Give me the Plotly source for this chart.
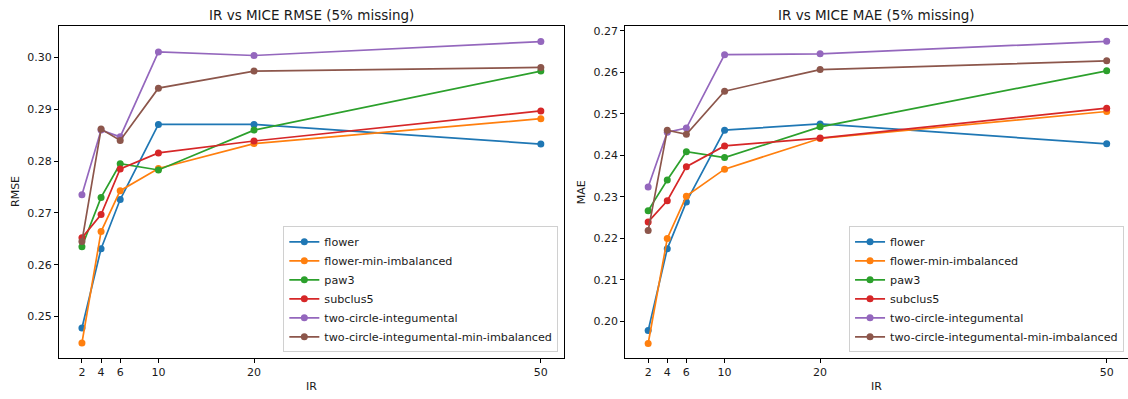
import plotly.graph_objects as go

# Imbalance ratios evaluated
ir = [2, 4, 6, 10, 20, 50]

datasets = [
    "flower",
    "flower-min-imbalanced",
    "paw3",
    "subclus5",
    "two-circle-integumental",
    "two-circle-integumental-min-imbalanced",
]

# RMSE of MICE imputation at 5% missing
rmse_flower = [0.2478, 0.2631, 0.2726, 0.2871, 0.2871, 0.2833]
rmse_flower_min = [0.2449, 0.2664, 0.2743, 0.2786, 0.2834, 0.2882]
rmse_paw3 = [0.2635, 0.2730, 0.2795, 0.2783, 0.2860, 0.2974]
rmse_subclus5 = [0.2652, 0.2697, 0.2785, 0.2816, 0.2839, 0.2897]
rmse_two_circle = [0.2735, 0.2860, 0.2847, 0.3011, 0.3004, 0.3031]
rmse_two_circle_min = [0.2645, 0.2862, 0.2840, 0.2941, 0.2974, 0.2981]

# MAE of MICE imputation at 5% missing
mae_flower = [0.1978, 0.2175, 0.2288, 0.2461, 0.2476, 0.2428]
mae_flower_min = [0.1947, 0.2200, 0.2302, 0.2367, 0.2441, 0.2506]
mae_paw3 = [0.2267, 0.2341, 0.2409, 0.2395, 0.2469, 0.2604]
mae_subclus5 = [0.2240, 0.2291, 0.2373, 0.2423, 0.2442, 0.2514]
mae_two_circle = [0.2324, 0.2456, 0.2466, 0.2643, 0.2645, 0.2675]
mae_two_circle_min = [0.2219, 0.2461, 0.2451, 0.2555, 0.2607, 0.2628]

rmse_series = [rmse_flower, rmse_flower_min, rmse_paw3, rmse_subclus5,
               rmse_two_circle, rmse_two_circle_min]
mae_series = [mae_flower, mae_flower_min, mae_paw3, mae_subclus5,
              mae_two_circle, mae_two_circle_min]

colors = ["#1f77b4", "#ff7f0e", "#2ca02c", "#d62728", "#9467bd", "#8c564b"]

rmse_ticks = [0.25, 0.26, 0.27, 0.28, 0.29, 0.30]
mae_ticks = [0.20, 0.21, 0.22, 0.23, 0.24, 0.25, 0.26, 0.27]

FONT = "DejaVu Sans"
TXT = "#1a1a1a"

fig = go.Figure()

for name, ys, c in zip(datasets, rmse_series, colors):
    fig.add_trace(go.Scatter(
        x=ir, y=ys, name=name, mode="lines+markers",
        line=dict(color=c, width=1.7),
        marker=dict(color=c, size=7, symbol="circle"),
        xaxis="x", yaxis="y", legend="legend",
    ))

for name, ys, c in zip(datasets, mae_series, colors):
    fig.add_trace(go.Scatter(
        x=ir, y=ys, name=name, mode="lines+markers",
        line=dict(color=c, width=1.7),
        marker=dict(color=c, size=7, symbol="circle"),
        xaxis="x2", yaxis="y2", legend="legend2",
    ))

axis_common = dict(
    showgrid=False, zeroline=False, showline=True, linecolor="#000000",
    linewidth=1, ticks="outside", ticklen=4, tickwidth=1, tickcolor="#000000",
    tickfont=dict(family=FONT, size=11, color=TXT),
)

legend_common = dict(
    xanchor="right", yanchor="bottom",
    bgcolor="rgba(255,255,255,0.8)", bordercolor="#d0d0d0", borderwidth=1,
    font=dict(family=FONT, size=11.2, color=TXT),
    tracegroupgap=0, itemclick=False,
)

fig.update_layout(
    width=1128, height=399,
    margin=dict(l=59, r=0, t=26, b=41),
    paper_bgcolor="white", plot_bgcolor="white",
    font=dict(family=FONT, color=TXT),
    xaxis=dict(domain=[0, 0.4722], range=[-0.4, 52.4], tickvals=ir,
               mirror=True, **axis_common),
    yaxis=dict(range=[0.2420, 0.3061], tickvals=rmse_ticks, tickformat=".2f",
               mirror=True, anchor="x", **axis_common),
    xaxis2=dict(domain=[0.5296, 1], range=[-0.41, 52.23], tickvals=ir,
                mirror=True, anchor="y2", **axis_common),
    yaxis2=dict(range=[0.1912, 0.2712], tickvals=mae_ticks, tickformat=".2f",
                mirror=False, anchor="x2", **axis_common),
    legend=dict(x=0.4671, y=0.017, **legend_common),
    legend2=dict(x=0.9963, y=0.017, **legend_common),
    showlegend=True,
)

titles = [
    ("x domain", "y domain", "IR vs MICE RMSE (5% missing)", "RMSE"),
    ("x2 domain", "y2 domain", "IR vs MICE MAE (5% missing)", "MAE"),
]
for xr, yr, title, ylabel in titles:
    fig.add_annotation(xref=xr, yref=yr, x=0.5, y=1, text=title,
                       showarrow=False, xanchor="center", yanchor="middle",
                       yshift=11, font=dict(family=FONT, size=13.5, color=TXT))
    fig.add_annotation(xref=xr, yref=yr, x=0.5, y=0, text="IR",
                       showarrow=False, xanchor="center", yanchor="middle",
                       yshift=-28, font=dict(family=FONT, size=11, color=TXT))
    fig.add_annotation(xref=xr, yref=yr, x=0, y=0.5, text=ylabel,
                       showarrow=False, xanchor="center", yanchor="middle",
                       textangle=-90, xshift=-44,
                       font=dict(family=FONT, size=11, color=TXT))

fig.write_html("out.html")
